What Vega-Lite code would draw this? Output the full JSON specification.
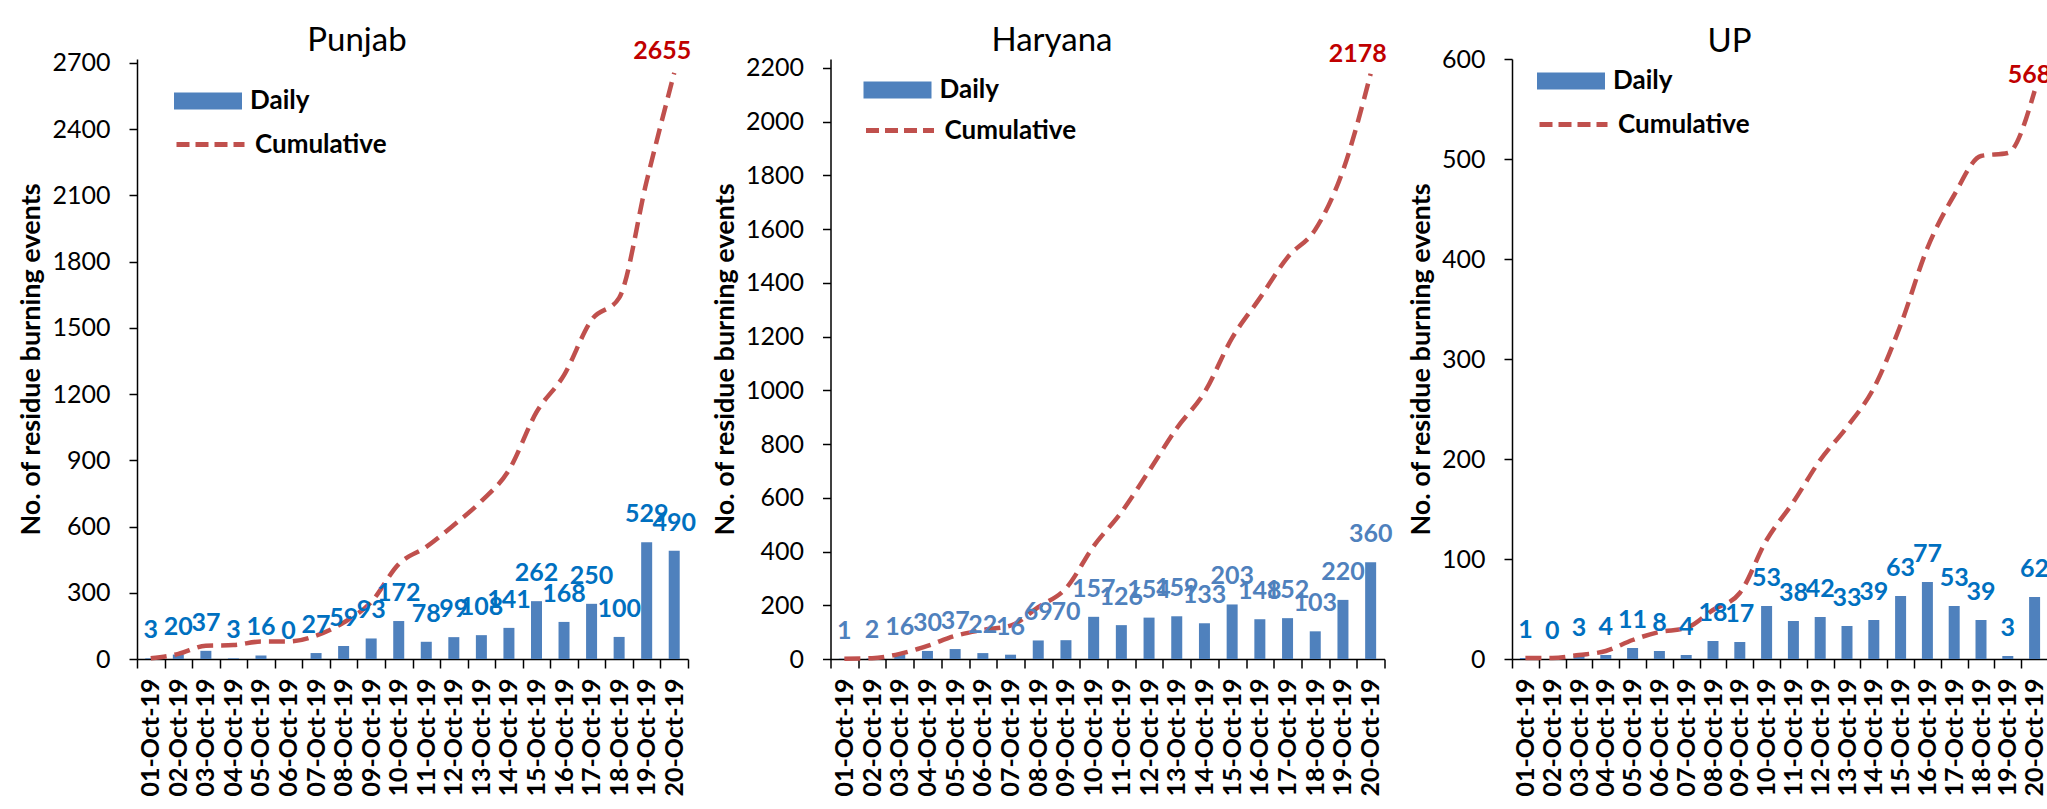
{
  "$schema": "https://vega.github.io/schema/vega-lite/v6.json",
  "background": "white",
  "padding": {"left": 17, "top": 24, "right": 0, "bottom": 0},
  "spacing": 14.5,
  "bounds": "full",
  "config": {
    "font": "Lato",
    "view": {"stroke": null},
    "axis": {"domainColor": "#000000", "domainWidth": 1.5, "tickColor": "#000000", "tickWidth": 1.5, "tickSize": 8, "labelColor": "#000000", "labelFont": "Lato", "grid": false, "titleColor": "#000000", "titleFont": "Lato"},
    "axisY": {"labelFontSize": 25, "labelPadding": 19, "titleFontSize": 27, "titleFontWeight": "bold", "titlePadding": 6, "format": "d"},
    "axisX": {"labelFontSize": 25, "labelFontWeight": "bold", "labelAngle": -90, "labelPadding": 10, "tickBand": "extent", "title": null, "tickSize": 9, "labelOverlap": false},
    "legend": {"orient": "none", "labelFont": "Lato", "labelFontSize": 26, "labelFontWeight": "bold", "labelColor": "#000000", "padding": 0, "labelOffset": 8, "title": null},
    "title": {"font": "Lato", "fontSize": 33, "fontWeight": "normal", "color": "#000000", "frame": "bounds"}
  },
  "datasets": {
    "punjab": [
      {"date": "01-Oct-19", "daily": 3, "cumulative": 3},
      {"date": "02-Oct-19", "daily": 20, "cumulative": 23},
      {"date": "03-Oct-19", "daily": 37, "cumulative": 60},
      {"date": "04-Oct-19", "daily": 3, "cumulative": 63},
      {"date": "05-Oct-19", "daily": 16, "cumulative": 79},
      {"date": "06-Oct-19", "daily": 0, "cumulative": 79},
      {"date": "07-Oct-19", "daily": 27, "cumulative": 106},
      {"date": "08-Oct-19", "daily": 59, "cumulative": 165},
      {"date": "09-Oct-19", "daily": 93, "cumulative": 258},
      {"date": "10-Oct-19", "daily": 172, "cumulative": 430},
      {"date": "11-Oct-19", "daily": 78, "cumulative": 508},
      {"date": "12-Oct-19", "daily": 99, "cumulative": 607},
      {"date": "13-Oct-19", "daily": 108, "cumulative": 715},
      {"date": "14-Oct-19", "daily": 141, "cumulative": 856},
      {"date": "15-Oct-19", "daily": 262, "cumulative": 1118},
      {"date": "16-Oct-19", "daily": 168, "cumulative": 1286},
      {"date": "17-Oct-19", "daily": 250, "cumulative": 1536},
      {"date": "18-Oct-19", "daily": 100, "cumulative": 1636},
      {"date": "19-Oct-19", "daily": 529, "cumulative": 2165},
      {"date": "20-Oct-19", "daily": 490, "cumulative": 2655}
    ],
    "haryana": [
      {"date": "01-Oct-19", "daily": 1, "cumulative": 1},
      {"date": "02-Oct-19", "daily": 2, "cumulative": 3},
      {"date": "03-Oct-19", "daily": 16, "cumulative": 19},
      {"date": "04-Oct-19", "daily": 30, "cumulative": 49},
      {"date": "05-Oct-19", "daily": 37, "cumulative": 86},
      {"date": "06-Oct-19", "daily": 22, "cumulative": 108},
      {"date": "07-Oct-19", "daily": 16, "cumulative": 124},
      {"date": "08-Oct-19", "daily": 69, "cumulative": 193},
      {"date": "09-Oct-19", "daily": 70, "cumulative": 263},
      {"date": "10-Oct-19", "daily": 157, "cumulative": 420},
      {"date": "11-Oct-19", "daily": 126, "cumulative": 546},
      {"date": "12-Oct-19", "daily": 154, "cumulative": 700},
      {"date": "13-Oct-19", "daily": 159, "cumulative": 859},
      {"date": "14-Oct-19", "daily": 133, "cumulative": 992},
      {"date": "15-Oct-19", "daily": 203, "cumulative": 1195},
      {"date": "16-Oct-19", "daily": 148, "cumulative": 1343},
      {"date": "17-Oct-19", "daily": 152, "cumulative": 1495},
      {"date": "18-Oct-19", "daily": 103, "cumulative": 1598},
      {"date": "19-Oct-19", "daily": 220, "cumulative": 1818},
      {"date": "20-Oct-19", "daily": 360, "cumulative": 2178}
    ],
    "up": [
      {"date": "01-Oct-19", "daily": 1, "cumulative": 1},
      {"date": "02-Oct-19", "daily": 0, "cumulative": 1},
      {"date": "03-Oct-19", "daily": 3, "cumulative": 4},
      {"date": "04-Oct-19", "daily": 4, "cumulative": 8},
      {"date": "05-Oct-19", "daily": 11, "cumulative": 19},
      {"date": "06-Oct-19", "daily": 8, "cumulative": 27},
      {"date": "07-Oct-19", "daily": 4, "cumulative": 31},
      {"date": "08-Oct-19", "daily": 18, "cumulative": 49},
      {"date": "09-Oct-19", "daily": 17, "cumulative": 66},
      {"date": "10-Oct-19", "daily": 53, "cumulative": 119},
      {"date": "11-Oct-19", "daily": 38, "cumulative": 157},
      {"date": "12-Oct-19", "daily": 42, "cumulative": 199},
      {"date": "13-Oct-19", "daily": 33, "cumulative": 232},
      {"date": "14-Oct-19", "daily": 39, "cumulative": 271},
      {"date": "15-Oct-19", "daily": 63, "cumulative": 334},
      {"date": "16-Oct-19", "daily": 77, "cumulative": 411},
      {"date": "17-Oct-19", "daily": 53, "cumulative": 464},
      {"date": "18-Oct-19", "daily": 39, "cumulative": 503},
      {"date": "19-Oct-19", "daily": 3, "cumulative": 506},
      {"date": "20-Oct-19", "daily": 62, "cumulative": 568}
    ]
  },
  "resolve": {"scale": {"fill": "independent", "stroke": "independent"}},
  "hconcat": [
    {
      "width": 551, "height": 600,
      "title": {"text": "Punjab", "offset": -19},
      "data": {"name": "punjab"},
      "encoding": {"x": {"field": "date", "type": "ordinal", "sort": null, "scale": {"paddingInner": 0, "paddingOuter": 0}}},
      "layer": [
        {"mark": {"type": "bar", "width": 11},
         "encoding": {
           "y": {"field": "daily", "type": "quantitative", "scale": {"domain": [0, 2718], "nice": false}, "axis": {"values": [0, 300, 600, 900, 1200, 1500, 1800, 2100, 2400, 2700], "title": "No. of residue burning events"}},
           "fill": {"datum": "Daily", "type": "nominal", "scale": {"range": ["#4F81BD"]}, "legend": {"symbolType": "M-1,-0.25H1V0.25H-1Z", "symbolSize": 4624, "symbolStrokeWidth": 0, "legendX": 37, "legendY": 8}}}},
        {"mark": {"type": "line", "strokeWidth": 4.5, "strokeDash": [16, 8], "interpolate": "monotone"},
         "encoding": {
           "y": {"field": "cumulative", "type": "quantitative"},
           "stroke": {"datum": "Cumulative", "type": "nominal", "scale": {"range": ["#C0504D"]}, "legend": {"symbolType": "stroke", "symbolSize": 4624, "symbolStrokeWidth": 5, "symbolDash": [13, 6], "legendX": 37, "legendY": 49}}}},
        {"mark": {"type": "text", "fontSize": 25, "fontWeight": "bold", "color": "#0070C0", "baseline": "middle", "dy": -28},
         "encoding": {"y": {"field": "daily", "type": "quantitative"}, "text": {"field": "daily", "type": "quantitative"}}},
        {"transform": [{"filter": "datum.date === '20-Oct-19'"}],
         "mark": {"type": "text", "fontSize": 25, "fontWeight": "bold", "color": "#C00000", "baseline": "middle", "dy": -22, "dx": -12},
         "encoding": {"y": {"field": "cumulative", "type": "quantitative"}, "text": {"field": "cumulative", "type": "quantitative"}}}
      ]
    },
    {
      "width": 554, "height": 600,
      "title": {"text": "Haryana", "offset": -16},
      "data": {"name": "haryana"},
      "encoding": {"x": {"field": "date", "type": "ordinal", "sort": null, "scale": {"paddingInner": 0, "paddingOuter": 0}}},
      "layer": [
        {"mark": {"type": "bar", "width": 11},
         "encoding": {
           "y": {"field": "daily", "type": "quantitative", "scale": {"domain": [0, 2233], "nice": false}, "axis": {"values": [0, 200, 400, 600, 800, 1000, 1200, 1400, 1600, 1800, 2000, 2200], "title": "No. of residue burning events"}},
           "fill": {"datum": "Daily", "type": "nominal", "scale": {"range": ["#4F81BD"]}, "legend": {"symbolType": "M-1,-0.25H1V0.25H-1Z", "symbolSize": 4624, "symbolStrokeWidth": 0, "legendX": 33, "legendY": -3}}}},
        {"mark": {"type": "line", "strokeWidth": 4.5, "strokeDash": [16, 8], "interpolate": "monotone"},
         "encoding": {
           "y": {"field": "cumulative", "type": "quantitative"},
           "stroke": {"datum": "Cumulative", "type": "nominal", "scale": {"range": ["#C0504D"]}, "legend": {"symbolType": "stroke", "symbolSize": 4624, "symbolStrokeWidth": 5, "symbolDash": [13, 6], "legendX": 33, "legendY": 35}}}},
        {"mark": {"type": "text", "fontSize": 25, "fontWeight": "bold", "color": "#4F81BD", "baseline": "middle", "dy": -28},
         "encoding": {"y": {"field": "daily", "type": "quantitative"}, "text": {"field": "daily", "type": "quantitative"}}},
        {"transform": [{"filter": "datum.date === '20-Oct-19'"}],
         "mark": {"type": "text", "fontSize": 25, "fontWeight": "bold", "color": "#C00000", "baseline": "middle", "dy": -20, "dx": -13},
         "encoding": {"y": {"field": "cumulative", "type": "quantitative"}, "text": {"field": "cumulative", "type": "quantitative"}}}
      ]
    },
    {
      "width": 536, "height": 600,
      "title": {"text": "UP", "offset": -12},
      "data": {"name": "up"},
      "encoding": {"x": {"field": "date", "type": "ordinal", "sort": null, "scale": {"paddingInner": 0, "paddingOuter": 0}}},
      "layer": [
        {"mark": {"type": "bar", "width": 11},
         "encoding": {
           "y": {"field": "daily", "type": "quantitative", "scale": {"domain": [0, 600], "nice": false}, "axis": {"values": [0, 100, 200, 300, 400, 500, 600], "title": "No. of residue burning events"}},
           "fill": {"datum": "Daily", "type": "nominal", "scale": {"range": ["#4F81BD"]}, "legend": {"symbolType": "M-1,-0.25H1V0.25H-1Z", "symbolSize": 4624, "symbolStrokeWidth": 0, "legendX": 25, "legendY": -12}}}},
        {"mark": {"type": "line", "strokeWidth": 4.5, "strokeDash": [16, 8], "interpolate": "monotone"},
         "encoding": {
           "y": {"field": "cumulative", "type": "quantitative"},
           "stroke": {"datum": "Cumulative", "type": "nominal", "scale": {"range": ["#C0504D"]}, "legend": {"symbolType": "stroke", "symbolSize": 4624, "symbolStrokeWidth": 5, "symbolDash": [13, 6], "legendX": 25, "legendY": 29}}}},
        {"mark": {"type": "text", "fontSize": 25, "fontWeight": "bold", "color": "#0070C0", "baseline": "middle", "dy": -28},
         "encoding": {"y": {"field": "daily", "type": "quantitative"}, "text": {"field": "daily", "type": "quantitative"}}},
        {"transform": [{"filter": "datum.date === '20-Oct-19'"}],
         "mark": {"type": "text", "fontSize": 25, "fontWeight": "bold", "color": "#C00000", "baseline": "middle", "dy": -16, "dx": -5},
         "encoding": {"y": {"field": "cumulative", "type": "quantitative"}, "text": {"field": "cumulative", "type": "quantitative"}}}
      ]
    }
  ]
}
